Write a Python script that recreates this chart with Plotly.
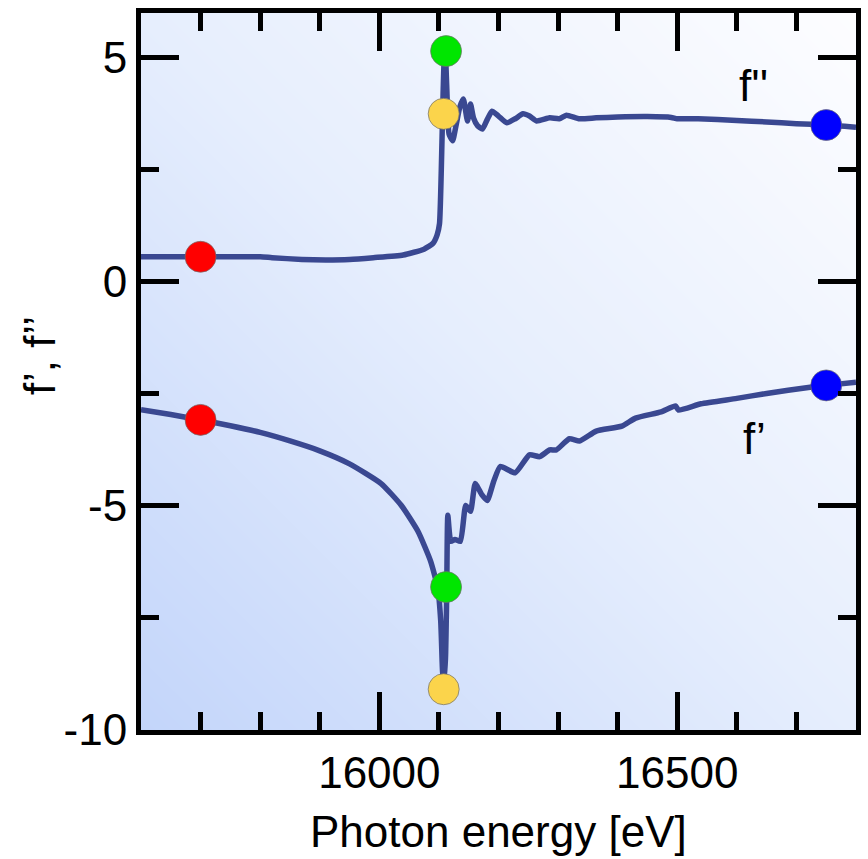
import numpy as np
import plotly.graph_objects as go

# ---------------- data ----------------
energy_f2 = [15600, 15700, 15800, 15820, 15870, 15910, 15950, 15990, 16040, 16075, 16090, 16097,
             16101, 16104, 16107, 16110, 16113, 16117, 16123, 16128, 16135, 16141, 16148, 16153,
             16158, 16165, 16173, 16181, 16189, 16200, 16214, 16228, 16241, 16252, 16264, 16286,
             16302, 16314, 16336, 16364, 16400, 16450, 16490, 16500, 16535, 16600, 16650, 16700,
             16750, 16800]
f2 = [0.56, 0.56, 0.56, 0.54, 0.50, 0.49, 0.50, 0.54, 0.60, 0.73, 0.86, 1.05,
      1.30, 2.50, 4.20, 5.40, 4.40, 3.30, 3.15, 3.44, 3.90, 4.08, 3.59, 3.97,
      3.66, 3.48, 3.41, 3.62, 3.81, 3.70, 3.55, 3.64, 3.75, 3.70, 3.59, 3.66,
      3.64, 3.72, 3.64, 3.66, 3.68, 3.69, 3.67, 3.64, 3.64, 3.60, 3.57, 3.53,
      3.50, 3.45]

energy_f1 = [15600, 15650, 15700, 15750, 15800, 15850, 15900, 15950, 16003, 16037, 16065, 16086,
             16098, 16103, 16106, 16108, 16111, 16113, 16115, 16120, 16127, 16136, 16145, 16153,
             16161, 16172, 16181, 16192, 16203, 16228, 16252, 16269, 16286, 16297, 16319, 16336,
             16364, 16407, 16430, 16473, 16497, 16502, 16540, 16600, 16650, 16723, 16750, 16800]
f1 = [-2.85, -2.96, -3.08, -3.21, -3.36, -3.55, -3.77, -4.06, -4.50, -4.99, -5.57, -6.23,
      -6.83, -7.56, -8.67, -8.98, -8.40, -7.05, -5.21, -5.79, -5.75, -5.79, -4.99, -5.12,
      -4.50, -4.75, -4.88, -4.45, -4.12, -4.26, -3.86, -3.90, -3.75, -3.75, -3.50, -3.55,
      -3.33, -3.22, -3.04, -2.90, -2.77, -2.86, -2.72, -2.60, -2.49, -2.35, -2.31, -2.24]

# marker points: (energy, f'', f')
marker_colors = ["#ff0000", "#00e600", "#fbd44b", "#0000ff"]
marker_energy = [15700, 16112, 16108, 16750]
marker_f2 = [0.56, 5.15, 3.75, 3.50]
marker_f1 = [-3.08, -6.81, -9.09, -2.31]

x_ticks = [16000, 16500]
x_minor = [15700, 15800, 15900, 16100, 16200, 16300, 16400, 16600, 16700]
y_ticks = [-10, -5, 0, 5]
y_ticklabels = ["-10", "-5", "0", "5"]
y_minor = [-7.5, -2.5, 2.5]
x_range = [15600, 16800]
y_range = [-10, 6]

# ---------------- figure ----------------
fig = go.Figure()

# background diagonal gradient (bottom-left blue -> top-right white)
gx = np.linspace(x_range[0], x_range[1], 41)
gy = np.linspace(y_range[0], y_range[1], 41)
u = (gx - x_range[0]) / (x_range[1] - x_range[0])
v = (gy - y_range[0]) / (y_range[1] - y_range[0])
gz = u[None, :] + v[:, None]
fig.add_trace(go.Heatmap(
    x=gx, y=gy, z=gz, zsmooth="best", showscale=False, hoverinfo="skip",
    colorscale=[[0, "#c3d5fa"], [0.5, "#e6eefd"], [1, "#fdfdff"]],
    zmin=0, zmax=2,
))

line_color = "#3a4891"
fig.add_trace(go.Scatter(x=energy_f2, y=f2, mode="lines",
                         line=dict(color=line_color, width=5.5, shape="spline", smoothing=0.5),
                         name="f''", showlegend=False))
fig.add_trace(go.Scatter(x=energy_f1, y=f1, mode="lines",
                         line=dict(color=line_color, width=5.5, shape="spline", smoothing=0.5),
                         name="f'", showlegend=False))

for c, e, a, b in zip(marker_colors, marker_energy, marker_f2, marker_f1):
    fig.add_trace(go.Scatter(
        x=[e, e], y=[a, b], mode="markers", showlegend=False, cliponaxis=False,
        marker=dict(color=c, size=31, line=dict(color="rgba(110,110,110,0.7)", width=1)),
    ))

font_family = "Liberation Sans, Arial, Helvetica, sans-serif"

axis_common = dict(
    showline=True, linewidth=5, linecolor="black", mirror="ticks",
    ticks="inside", ticklen=38, tickwidth=5, tickcolor="black",
    showgrid=False, zeroline=False, automargin=False,
    tickfont=dict(family=font_family, size=44, color="black"),
)

fig.update_xaxes(range=x_range, tickvals=x_ticks, ticktext=[str(t) for t in x_ticks],
                 minor=dict(tickvals=x_minor, ticks="inside", ticklen=18, tickwidth=5, tickcolor="black"),
                 **axis_common)
fig.update_yaxes(range=y_range, tickvals=y_ticks, ticktext=y_ticklabels,
                 minor=dict(tickvals=y_minor, ticks="inside", ticklen=18, tickwidth=5, tickcolor="black"),
                 **axis_common)

annotations = [
    dict(x=16628, y=4.39, xref="x", yref="y", text="f''", showarrow=False,
         font=dict(family=font_family, size=44, color="black")),
    dict(x=16629, y=-3.49, xref="x", yref="y", text="f’", showarrow=False,
         font=dict(family=font_family, size=44, color="black")),
    dict(x=0.5, y=-0.142, xref="paper", yref="paper", text="Photon energy [eV]", showarrow=False,
         xanchor="center", yanchor="middle",
         font=dict(family=font_family, size=44, color="black")),
    dict(x=-0.1427, y=0.523, xref="paper", yref="paper", text="f’, f’’", showarrow=False,
         textangle=-90, xanchor="center", yanchor="middle",
         font=dict(family=font_family, size=44, color="black")),
]

fig.update_layout(
    width=868, height=859,
    margin=dict(l=141, r=12, t=13, b=129, pad=0),
    paper_bgcolor="white", plot_bgcolor="white",
    showlegend=False,
    annotations=annotations,
)

# remove the default page margin so the figure sits at the window's top-left corner
fig.write_html("out.html",
               config={"displayModeBar": False},
               post_script="document.body.style.margin='0';document.body.style.overflow='hidden';")
